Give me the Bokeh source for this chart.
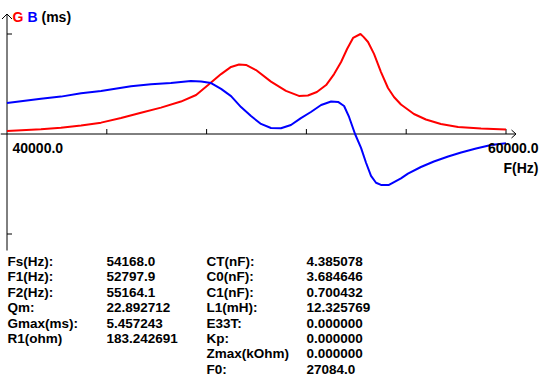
from bokeh.plotting import figure
from bokeh.models import Range1d, ColumnDataSource
from bokeh.core.properties import value
from bokeh.embed import file_html
from bokeh.resources import INLINE

# ---------------- data ----------------
g_freq = [40000, 41360, 42160, 42970, 43770, 44570, 45370, 46170, 46970, 47580,
          48060, 48580, 48980, 49300, 49580, 49980, 50580, 51180, 51700, 52060,
          52420, 52790, 53110, 53390, 53630, 53870, 54168, 54290, 54470, 54710,
          54990, 55270, 55510, 55790, 56310, 56790, 57390, 58080, 59000, 60000]
g_vals = [0.16, 0.26, 0.34, 0.46, 0.62, 0.87, 1.16, 1.44, 1.77, 2.13,
          2.67, 3.27, 3.66, 3.79, 3.77, 3.49, 2.86, 2.35, 2.08, 2.10,
          2.29, 2.67, 3.27, 3.93, 4.64, 5.24, 5.457, 5.30, 5.02, 4.37,
          3.38, 2.51, 2.02, 1.61, 1.09, 0.79, 0.55, 0.38, 0.30, 0.25]

b_freq = [40000, 41360, 42160, 42970, 43770, 44970, 45770, 46570, 47370, 47780,
          48180, 48580, 48980, 49380, 49780, 50180, 50580, 50980, 51380, 51780,
          52180, 52590, 52990, 53270, 53510, 53710, 53950, 54190, 54390, 54590,
          54790, 54990, 55310, 55790, 56070, 56590, 57110, 57680, 58200, 58800,
          59400, 60000]
b_vals = [1.69, 1.93, 2.04, 2.22, 2.35, 2.60, 2.71, 2.78, 2.89, 2.86,
          2.78, 2.46, 2.07, 1.47, 0.98, 0.55, 0.33, 0.31, 0.49, 0.87,
          1.20, 1.58, 1.77, 1.75, 1.53, 0.93, 0.00, -0.76, -1.57, -2.29,
          -2.66, -2.78, -2.78, -2.42, -2.16, -1.80, -1.50, -1.23, -1.01, -0.79,
          -0.60, -0.51]

f_min, f_max = 40000, 60000
x_ticks = [44000, 48000, 52000, 56000, 60000]
y_ticks = [5.457243, -5.457243]
x_tick_labels = ["40000.0", "60000.0"]

labels_left = ["Fs(Hz):", "F1(Hz):", "F2(Hz):", "Qm:", "Gmax(ms):", "R1(ohm)"]
values_left = ["54168.0", "52797.9", "55164.1", "22.892712", "5.457243", "183.242691"]
labels_right = ["CT(nF):", "C0(nF):", "C1(nF):", "L1(mH):", "E33T:", "Kp:", "Zmax(kOhm)", "F0:"]
values_right = ["4.385078", "3.684646", "0.700432", "12.325769", "0.000000",
                "0.000000", "0.000000", "27084.0"]

# ---------------- layout ----------------
FIG_W, FIG_H, OFF = 540, 377, 0
X0_SCREEN, X1_SCREEN = 6.5, 505.5      # screen x of f_min / f_max
Y0_SCREEN = 133.5                       # screen y of value 0
PX_PER_UNIT = 100 / 5.457243            # 100 px per Gmax
HZ_PER_PX = (f_max - f_min) / (X1_SCREEN - X0_SCREEN)


def sx(px):
    return f_min + (px - X0_SCREEN) * HZ_PER_PX


def sy(py):
    return (Y0_SCREEN - py) / PX_PER_UNIT


p = figure(width=FIG_W, height=FIG_H, output_backend="svg", toolbar_location=None,
           x_range=Range1d(sx(OFF), sx(OFF + FIG_W)),
           y_range=Range1d(sy(OFF + FIG_H), sy(OFF)),
           min_border=0, min_border_left=0, min_border_right=0,
           min_border_top=0, min_border_bottom=0)
p.xaxis.visible = False
p.yaxis.visible = False
p.grid.visible = False
p.outline_line_color = None
p.background_fill_color = "white"
p.border_fill_color = "white"

AX = dict(line_color="black", line_width=1)

# x axis with arrow
p.segment(x0=[sx(0)], y0=[0], x1=[sx(515)], y1=[0], **AX)
p.line([sx(511), sx(515.5), sx(511)], [sy(129.5), sy(133.5), sy(137.5)], **AX)
# x ticks (upward)
p.segment(x0=x_ticks, y0=[0] * len(x_ticks), x1=x_ticks,
          y1=[sy(128.5)] * len(x_ticks), **AX)

# y axis with arrow
yax = sx(6.5)
p.segment(x0=[yax], y0=[sy(13.5)], x1=[yax], y1=[sy(250)], **AX)
p.line([sx(1.5), yax, sx(11.5)], [sy(18.5), sy(13.5), sy(18.5)], **AX)
# y ticks (rightward)
p.segment(x0=[yax] * len(y_ticks), y0=y_ticks, x1=[sx(11.5)] * len(y_ticks),
          y1=y_ticks, **AX)

# curves
p.line(g_freq, g_vals, line_color="#ff0000", line_width=2)
p.line(b_freq, b_vals, line_color="#0000ff", line_width=2)

FONT = dict(text_font=value("Liberation Sans"), text_font_style="bold",
            text_font_size="14px", text_baseline="middle")
TFONT = dict(FONT, text_font_size="13.5px")

# top legend
p.text(x=[sx(12)], y=[sy(16.5)], text=["G"], text_color="#ff0000", **FONT)
p.text(x=[sx(27)], y=[sy(16.5)], text=["B"], text_color="#0000ff", **FONT)
p.text(x=[sx(41)], y=[sy(16.5)], text=["(ms)"], text_color="black", **FONT)

# axis labels
p.text(x=[sx(12)], y=[sy(147.5)], text=[x_tick_labels[0]], text_color="black", **FONT)
p.text(x=[sx(538)], y=[sy(147.5)], text=[x_tick_labels[1]], text_color="black",
       text_align="right", **FONT)
p.text(x=[sx(538)], y=[sy(167.5)], text=["F(Hz)"], text_color="black",
       text_align="right", **FONT)

# parameter table
row_y = lambda n: [sy(261 + 15.4 * i) for i in range(n)]
for xs, col in [(7, labels_left), (106, values_left), (206, labels_right), (306, values_right)]:
    src = ColumnDataSource(dict(x=[sx(xs)] * len(col), y=row_y(len(col)), t=col))
    p.text(x="x", y="y", text="t", source=src, text_color="black", **TFONT)

open("out.html", "w").write(file_html(p, INLINE))
